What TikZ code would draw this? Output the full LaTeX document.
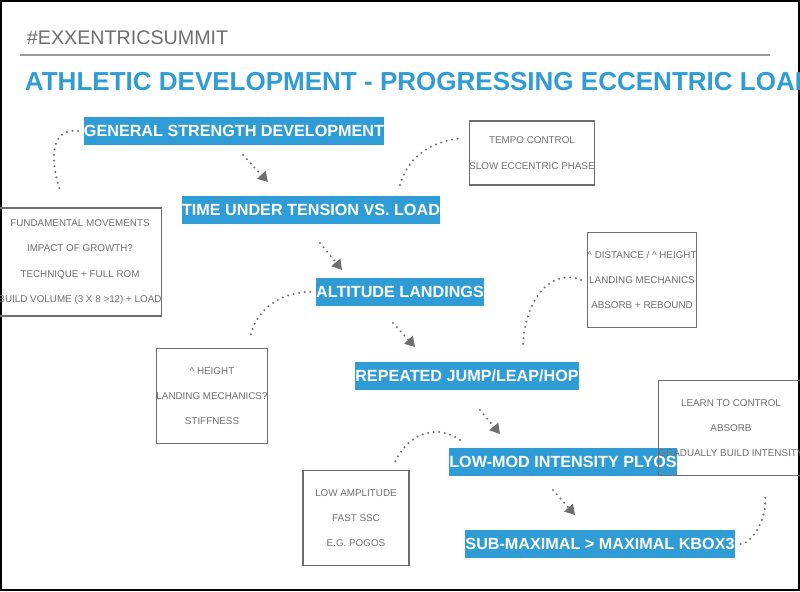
\documentclass[tikz,border=0pt]{standalone}
\usepackage{fontspec}
\setmainfont{Liberation Sans}
\usetikzlibrary{arrows.meta}
\definecolor{exblue}{RGB}{48,156,214}
\definecolor{exgray}{RGB}{110,110,110}
\tikzset{
   stage/.style={fill=exblue, text=white, font=\fontsize{11.5}{14}\selectfont\bfseries, inner sep=0pt, minimum height=0.7cm},
   notebox/.style={draw=exgray, line width=1pt, text=exgray, font=\fontsize{7}{18}\selectfont, align=center, inner sep=0pt},
   flow/.style={exgray, line width=1.6pt, dash pattern=on 0pt off 4pt, line cap=round, -{Triangle[length=7pt,width=8pt]}},
   hint/.style={exgray, line width=1.6pt, dash pattern=on 0pt off 4pt, line cap=round}
}
\begin{document}
\begin{tikzpicture}[x=0.025cm, y=-0.025cm]
   \useasboundingbox (0,0) rectangle (800,591);
   \draw[line width=0.8pt] (1,1) rectangle (799,590);
   % Header
   \node[anchor=west, text=exgray, font=\fontsize{14}{16}\selectfont] (tag) at (22,38) {\#EXXENTRICSUMMIT};
   \draw[exgray!70, line width=0.8pt] (20,55) -- (770,55);
   \node[anchor=west, text=exblue, font=\fontsize{18.5}{22}\selectfont\bfseries] (title) at (20,82) {ATHLETIC DEVELOPMENT - PROGRESSING ECCENTRIC LOADING};
   % Stages
   \node[stage, minimum width=6.1cm] (gsd) at (234,131) {GENERAL STRENGTH DEVELOPMENT};
   \node[stage, minimum width=5.4cm] (tut) at (311,210) {TIME UNDER TENSION VS. LOAD};
   \node[stage, minimum width=3.5cm] (alt) at (400,292) {ALTITUDE LANDINGS};
   \node[stage, minimum width=4.75cm] (rep) at (467,376) {REPEATED JUMP/LEAP/HOP};
   \node[stage, minimum width=5cm] (plyo) at (563,462) {LOW-MOD INTENSITY PLYOS};
   \node[stage, minimum width=6.1cm] (kbox) at (600,544) {SUB-MAXIMAL > MAXIMAL KBOX3};
   % Notes
   \node[notebox, minimum width=3.6cm, minimum height=2.7cm] (fund) at (80,262) {FUNDAMENTAL MOVEMENTS\\IMPACT OF GROWTH?\\TECHNIQUE + FULL ROM\\BUILD VOLUME (3 X 8 >12) + LOAD};
   \node[notebox, minimum width=2.6cm, minimum height=1.6cm] (tempo) at (532,153) {TEMPO CONTROL\\SLOW ECCENTRIC PHASE};
   \node[notebox, minimum width=2.6cm, minimum height=2.375cm] (dist) at (642,280) {\^{} DISTANCE / \^{} HEIGHT\\LANDING MECHANICS\\ABSORB + REBOUND};
   \node[notebox, minimum width=2.65cm, minimum height=2.375cm] (hgt) at (212,396) {\^{} HEIGHT\\LANDING MECHANICS?\\STIFFNESS};
   \node[notebox, minimum width=2.9cm, minimum height=2.375cm] (learn) at (731,428) {LEARN TO CONTROL\\ABSORB\\GRADUALLY BUILD INTENSITY};
   \node[notebox, minimum width=2.65cm, minimum height=2.375cm] (amp) at (356,518) {LOW AMPLITUDE\\FAST SSC\\E.G. POGOS};
   % Flow between stages
   \draw[flow] (243,155) -- (268,182);
   \draw[flow] (320,243) -- (342,270);
   \draw[flow] (393,323) -- (415,347);
   \draw[flow] (480,410) -- (500,434);
   \draw[flow] (553,490) -- (575,515);
   % Links to notes
   \draw[hint] ([xshift=-4pt]gsd.west) .. controls (50,128) and (50,160) .. (60,190);
   \draw[hint] (400,185) .. controls (410,150) and (440,140) .. ([xshift=-4pt]tempo.west |- 0,138);
   \draw[hint] ([xshift=-4pt]alt.west) .. controls (280,292) and (255,310) .. (250,338);
   \draw[hint] ([xshift=-4pt]dist.west) .. controls (550,268) and (525,300) .. (523,345);
   \draw[hint] (460,440) .. controls (440,425) and (410,430) .. (395,462);
   \draw[hint] ([xshift=4pt]kbox.east) .. controls (750,545) and (768,520) .. (765,495);
\end{tikzpicture}
\end{document}
